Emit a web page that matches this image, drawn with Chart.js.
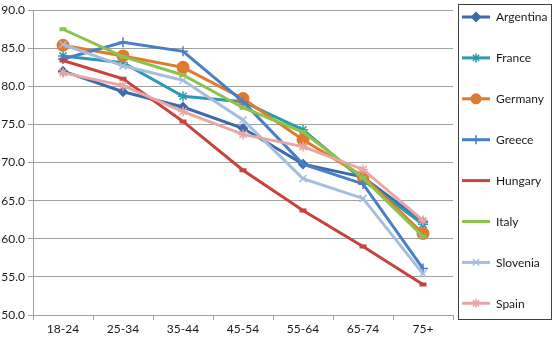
<!DOCTYPE html>
<html>
<head>
<meta charset="utf-8">
<script src="https://cdn.jsdelivr.net/npm/chart.js@4"></script>
<style>
html,body{margin:0;padding:0;background:#fff;}
#wrap{width:552px;height:340px;position:relative;}
</style>
</head>
<body>
<div id="wrap"><canvas id="c" width="552" height="340"></canvas></div>
<script>
const categories = ['18-24','25-34','35-44','45-54','55-64','65-74','75+'];
const argentina = [82.0, 79.3, 77.3, 74.5, 69.8, 68.1, 62.2];
const france    = [84.0, 83.1, 78.7, 78.0, 74.3, 67.7, 61.9];
const germany   = [85.4, 84.0, 82.5, 78.4, 73.0, 68.2, 60.7];
const greece    = [83.6, 85.8, 84.6, 78.0, 69.8, 67.2, 56.1];
const hungary   = [83.4, 81.0, 75.4, 69.0, 63.7, 59.0, 54.0];
const italy     = [87.5, 83.9, 81.5, 77.2, 74.0, 68.0, 60.3];
const slovenia  = [85.5, 82.7, 80.8, 75.6, 67.9, 65.3, 55.4];
const spain     = [81.8, 80.1, 76.7, 73.7, 72.1, 69.1, 62.4];
const seriesNames = ['Argentina','France','Germany','Greece','Hungary','Italy','Slovenia','Spain'];
const seriesValues = [argentina, france, germany, greece, hungary, italy, slovenia, spain];
const yTicks = [50, 55, 60, 65, 70, 75, 80, 85, 90];

const colors = ['#3C6AAA','#2E9AAE','#E07A30','#4A7FC6','#C8433F','#8CC34B','#A6BDDD','#E7A7A6'];
const styles = ['rectRot','star','circle','cross','line','line','crossRot','star'];
const radii  = [4, 5, 5.5, 5, 3.5, 3.5, 5, 5];
const pbw    = [2, 1.5, 2, 1.5, 4, 4, 1.5, 1.5];

const FONT = 'Lato, "Noto Sans", sans-serif';

const datasets = seriesNames.map((n, i) => ({
  label: n,
  data: seriesValues[i],
  borderColor: colors[i],
  backgroundColor: colors[i],
  pointBackgroundColor: colors[i],
  pointBorderColor: colors[i],
  pointStyle: styles[i],
  pointRadius: radii[i],
  pointBorderWidth: pbw[i],
  borderWidth: 3,
  tension: 0,
  order: seriesNames.length - i
}));

const legendPlugin = {
  id: 'customLegend',
  afterDraw(chart) {
    const ctx = chart.ctx;
    ctx.save();
    ctx.strokeStyle = '#404040';
    ctx.lineWidth = 1;
    ctx.strokeRect(458.5, 4.5, 93, 315);
    chart.data.datasets.forEach((ds, i) => {
      const y = 17 + i * 40.9;
      ctx.strokeStyle = ds.borderColor;
      ctx.lineWidth = 3;
      ctx.beginPath();
      ctx.moveTo(462, y);
      ctx.lineTo(490, y);
      ctx.stroke();
      if (ds.pointStyle !== 'line' && Chart.helpers && Chart.helpers.drawPoint) {
        ctx.fillStyle = ds.pointBackgroundColor;
        ctx.strokeStyle = ds.pointBorderColor;
        ctx.lineWidth = ds.pointBorderWidth;
        Chart.helpers.drawPoint(ctx, {pointStyle: ds.pointStyle, radius: Math.min(ds.pointRadius, 4.5), rotation: 0, borderWidth: ds.pointBorderWidth}, 476, y);
      }
      ctx.fillStyle = '#1a1a1a';
      ctx.font = '12px ' + FONT;
      ctx.textBaseline = 'middle';
      ctx.textAlign = 'left';
      ctx.fillText(ds.label, 496, y + 0.5);
    });
    ctx.restore();
  }
};

new Chart(document.getElementById('c'), {
  type: 'line',
  data: { labels: categories, datasets },
  options: {
    responsive: false,
    animation: false,
    devicePixelRatio: 1,
    layout: { padding: { top: 8, right: 99, bottom: 0, left: 0 } },
    plugins: { legend: { display: false }, tooltip: { enabled: false } },
    scales: {
      x: {
        offset: true,
        grid: { offset: true, drawOnChartArea: false, drawTicks: true, tickLength: 5, color: '#A0A0A0', lineWidth: 1 },
        border: { color: '#A0A0A0', width: 1 },
        ticks: { color: '#1a1a1a', font: { family: FONT, size: 12 }, padding: 2, maxRotation: 0 },
        afterFit(s) { s.height = 25; }
      },
      y: {
        min: 50, max: 90,
        afterBuildTicks(s) { s.ticks = yTicks.map(v => ({ value: v })); },
        grid: { color: '#A0A0A0', lineWidth: 1, tickLength: 5, drawTicks: true },
        border: { color: '#A0A0A0', width: 1 },
        ticks: { color: '#1a1a1a', font: { family: FONT, size: 12 }, padding: 3,
                 callback: v => Number(v).toFixed(1) },
        afterFit(s) { s.width = 33; }
      }
    }
  },
  plugins: [legendPlugin]
});
</script>
</body>
</html>
